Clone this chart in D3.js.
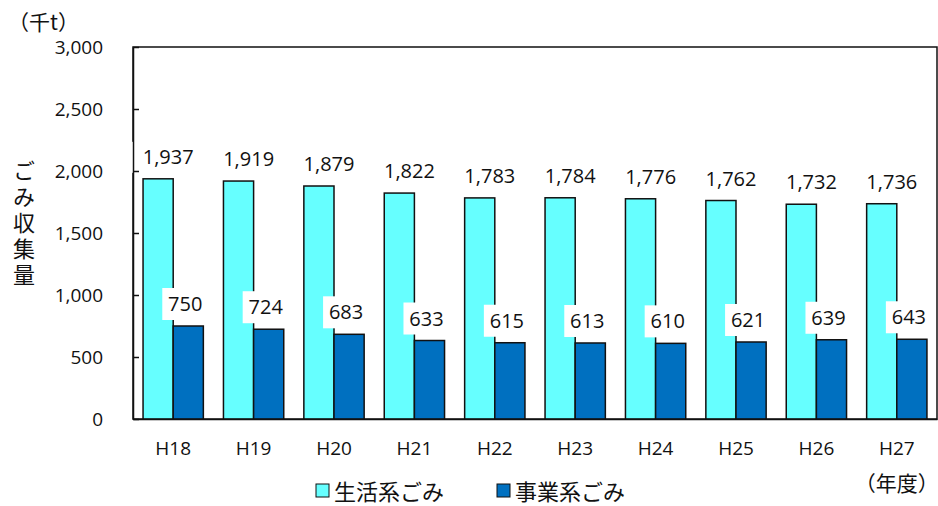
<!DOCTYPE html>
<html>
<head>
<meta charset="utf-8">
<script src="https://cdn.jsdelivr.net/npm/d3@7"></script>
<style>
  body { margin: 0; background: #fff; }
  text { font-family: "Open Sans", "Noto Sans CJK JP", sans-serif; fill: #111; }
  .jp { font-family: "Noto Sans CJK JP", sans-serif; }
</style>
</head>
<body>
<div id="chart"></div>
<script>
var years = ["H18", "H19", "H20", "H21", "H22", "H23", "H24", "H25", "H26", "H27"];
var household = [1937, 1919, 1879, 1822, 1783, 1784, 1776, 1762, 1732, 1736];
var business = [750, 724, 683, 633, 615, 613, 610, 621, 639, 643];
var seriesNames = ["生活系ごみ", "事業系ごみ"];
var seriesColors = ["#66FFFF", "#0070C0"];
var yTicks = [0, 500, 1000, 1500, 2000, 2500, 3000];

var margin = {top: 47, right: 1, bottom: 87, left: 133},
    width = 938 - margin.left - margin.right,
    height = 506 - margin.top - margin.bottom;

var svg = d3.select("#chart").append("svg")
    .attr("width", 938)
    .attr("height", 506);
var g = svg.append("g")
    .attr("transform", "translate(" + margin.left + "," + margin.top + ")");

var x = d3.scaleBand().domain(years).range([0, width]).paddingInner(0.25).paddingOuter(0.125);
var xs = d3.scaleBand().domain([0, 1]).range([0, x.bandwidth()]);
var y = d3.scaleLinear().domain([0, 3000]).range([height, 0]);

var fmt = d3.format(",");

// frame
g.append("rect")
  .attr("x", 0).attr("y", 0)
  .attr("width", width).attr("height", height)
  .attr("fill", "none").attr("stroke", "#111").attr("stroke-width", 1.5);

// bars
var data = years.map(function(d, i) { return {year: d, vals: [household[i], business[i]]}; });
var grp = g.selectAll(".grp").data(data).enter().append("g")
  .attr("transform", function(d) { return "translate(" + x(d.year) + ",0)"; });
grp.selectAll("rect").data(function(d) { return d.vals; }).enter().append("rect")
  .attr("x", function(d, i) { return xs(i); })
  .attr("width", xs.bandwidth())
  .attr("y", function(d) { return y(d); })
  .attr("height", function(d) { return height - y(d); })
  .attr("fill", function(d, i) { return seriesColors[i]; })
  .attr("stroke", "#111").attr("stroke-width", 1.5);

// axis
var yAxis = g.append("g")
  .call(d3.axisLeft(y).tickValues(yTicks).tickSizeInner(-6).tickSizeOuter(0).tickPadding(30).tickFormat(fmt));
yAxis.select(".domain").attr("stroke", "#111").attr("stroke-width", 1.5);
yAxis.selectAll(".tick line").attr("stroke", "#111").attr("stroke-width", 1.5);
yAxis.selectAll("text").attr("font-size", 19).attr("font-family", "'Open Sans', sans-serif").attr("fill", "#111");

var xAxis = g.append("g")
  .attr("transform", "translate(0," + height + ")")
  .call(d3.axisBottom(x).tickSize(0).tickPadding(23));
xAxis.select(".domain").attr("stroke", "#111").attr("stroke-width", 1.5);
xAxis.selectAll("text").attr("font-size", 19).attr("font-family", "'Open Sans', sans-serif").attr("fill", "#111");

// value labels: household
grp.append("rect")
  .attr("x", x.bandwidth() / 2 - 44)
  .attr("y", function(d) { return y(d.vals[0]) - 37; })
  .attr("width", 78).attr("height", 31)
  .attr("fill", "#fff");
grp.append("text")
  .attr("x", x.bandwidth() / 2 - 5)
  .attr("y", function(d) { return y(d.vals[0]) - 15; })
  .attr("text-anchor", "middle")
  .attr("font-size", 20)
  .text(function(d) { return fmt(d.vals[0]); });

// value labels: business
grp.append("rect")
  .attr("x", xs(1) + xs.bandwidth() / 2 - 26)
  .attr("y", function(d) { return y(d.vals[1]) - 38; })
  .attr("width", 47).attr("height", 32)
  .attr("fill", "#fff");
grp.append("text")
  .attr("x", xs(1) + xs.bandwidth() / 2 - 3)
  .attr("y", function(d) { return y(d.vals[1]) - 15; })
  .attr("text-anchor", "middle")
  .attr("font-size", 20)
  .text(function(d) { return fmt(d.vals[1]); });

// unit + axis title
svg.append("text").attr("class", "jp")
  .attr("x", 8).attr("y", 30)
  .attr("font-size", 21)
  .text("（千t）");
svg.append("text").attr("class", "jp")
  .attr("x", 24).attr("y", 160)
  .attr("font-size", 22)
  .style("writing-mode", "vertical-rl")
  .style("letter-spacing", "4px")
  .text("ごみ収集量");

svg.append("text").attr("class", "jp")
  .attr("x", margin.left + x("H27") + x.bandwidth() / 2)
  .attr("y", 491)
  .attr("text-anchor", "middle")
  .attr("font-size", 21)
  .text("（年度）");

// legend
var legend = svg.append("g").attr("transform", "translate(316,500)");
var legX = [0, 181];
seriesNames.forEach(function(n, i) {
  legend.append("rect")
    .attr("x", legX[i]).attr("y", -16)
    .attr("width", 13).attr("height", 13)
    .attr("fill", seriesColors[i]).attr("stroke", "#111").attr("stroke-width", 1);
  legend.append("text").attr("class", "jp")
    .attr("x", legX[i] + 18).attr("y", 0)
    .attr("font-size", 22)
    .text(n);
});
</script>
</body>
</html>
